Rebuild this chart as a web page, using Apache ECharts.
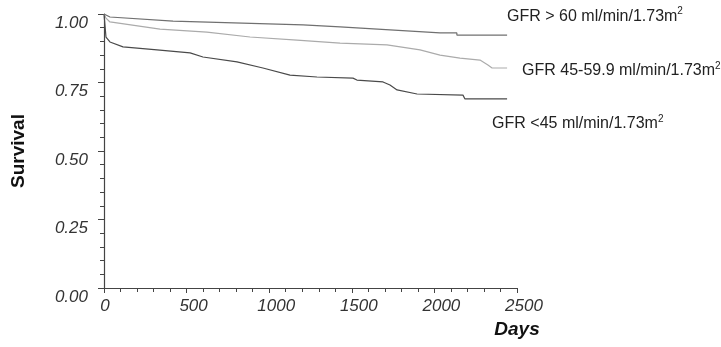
<!DOCTYPE html>
<html>
<head>
<meta charset="utf-8">
<script src="https://cdn.jsdelivr.net/npm/echarts@6/dist/echarts.min.js"></script>
<style>
  html, body { margin: 0; padding: 0; background: #fff; }
  #chart { width: 721px; height: 347px; }
</style>
</head>
<body>
<div id="chart"></div>
<script>
// survival curves (days, survival)
const gfr60Days = [0, 36, 418, 1205, 1429, 2034, 2136, 2136, 2440];
const gfr60Surv = [1.0, 0.989, 0.974, 0.960, 0.953, 0.931, 0.931, 0.923, 0.923];

const gfr45Days = [0, 12, 36, 339, 623, 884, 1168, 1429, 1713, 1913, 2034, 2155, 2276, 2324, 2349, 2440];
const gfr45Surv = [1.0, 0.985, 0.971, 0.945, 0.934, 0.916, 0.905, 0.894, 0.887, 0.869, 0.850, 0.839, 0.832, 0.814, 0.803, 0.803];

const gfrLowDays = [0, 12, 36, 115, 321, 521, 599, 805, 962, 1126, 1289, 1507, 1531, 1689, 1731, 1774, 1895, 2173, 2185, 2440];
const gfrLowSurv = [1.0, 0.916, 0.898, 0.880, 0.869, 0.858, 0.843, 0.825, 0.803, 0.777, 0.770, 0.766, 0.759, 0.752, 0.741, 0.723, 0.708, 0.704, 0.690, 0.690];

const seriesNames = ["GFR > 60 ml/min/1.73m", "GFR 45-59.9 ml/min/1.73m", "GFR <45 ml/min/1.73m"];

const zip = (xs, ys) => xs.map((x, i) => [x, ys[i]]);

let element = document.getElementById("chart");
let myChart = echarts.init(element);

const labelFont = "'Liberation Sans', Arial, sans-serif";
const endLabelRich = {
  a: { fontSize: 16, fontFamily: labelFont, color: "#222" },
  s: { fontSize: 10, fontFamily: labelFont, color: "#222", padding: [0, 0, 9, 0] },
};

function makeSeries(name, data, color, offset) {
  return {
    name: name,
    type: "line",
    data: data,
    symbol: "none",
    lineStyle: { color: color, width: 1.2 },
    endLabel: {
      show: true,
      distance: 0,
      offset: offset,
      formatter: () => "{a|" + name + "}{s|2}",
      rich: endLabelRich,
    },
  };
}

let option = {
  animation: false,
  grid: { left: 104, top: 14, width: 413, height: 274, containLabel: false, outerBoundsMode: "none" },
  xAxis: {
    type: "value",
    min: 0,
    max: 2500,
    interval: 500,
    name: "Days",
    nameLocation: "end",
    nameGap: 0,
    nameMoveOverlap: false,
    nameTextStyle: {
      fontFamily: labelFont,
      fontSize: 19,
      fontWeight: "bold",
      fontStyle: "italic",
      color: "#111",
      align: "center",
      verticalAlign: "top",
      lineHeight: 84,
    },
    axisLine: { show: true, lineStyle: { color: "#444", width: 1.2 } },
    axisTick: { show: true, length: 5, lineStyle: { color: "#444" } },
    minorTick: { show: true, splitNumber: 5, length: 4, lineStyle: { color: "#444" } },
    splitLine: { show: false },
    axisLabel: {
      margin: 10,
      formatter: function (value) {
        return value === 0 ? "{z|0}" : "{n|" + value + "}";
      },
      rich: {
        z: { fontFamily: labelFont, fontSize: 17, fontStyle: "italic", color: "#333", padding: [0, 0, 0, 2] },
        n: { fontFamily: labelFont, fontSize: 17, fontStyle: "italic", color: "#333", padding: [0, 0, 0, 14] },
      },
    },
  },
  yAxis: {
    type: "value",
    min: 0,
    max: 1,
    interval: 0.25,
    name: "Survival",
    nameLocation: "middle",
    nameGap: 76,
    nameTextStyle: {
      fontFamily: labelFont,
      fontSize: 19,
      fontWeight: "bold",
      color: "#111",
    },
    axisLine: { show: true, lineStyle: { color: "#444", width: 1.2 } },
    axisTick: { show: true, length: 6, lineStyle: { color: "#444" } },
    minorTick: { show: true, splitNumber: 5, length: 4, lineStyle: { color: "#444" } },
    splitLine: { show: false },
    axisLabel: {
      margin: 16,
      fontFamily: labelFont,
      fontSize: 17,
      fontStyle: "italic",
      color: "#333",
      verticalAlign: "top",
      lineHeight: 18,
      formatter: (value) => value.toFixed(2),
    },
  },
  series: [
    makeSeries(seriesNames[0], zip(gfr60Days, gfr60Surv), "#707070", [0, -19]),
    makeSeries(seriesNames[1], zip(gfr45Days, gfr45Surv), "#ababab", [15, 3]),
    makeSeries(seriesNames[2], zip(gfrLowDays, gfrLowSurv), "#4a4a4a", [-15, 25]),
  ],
};
myChart.setOption(option);
</script>
</body>
</html>
